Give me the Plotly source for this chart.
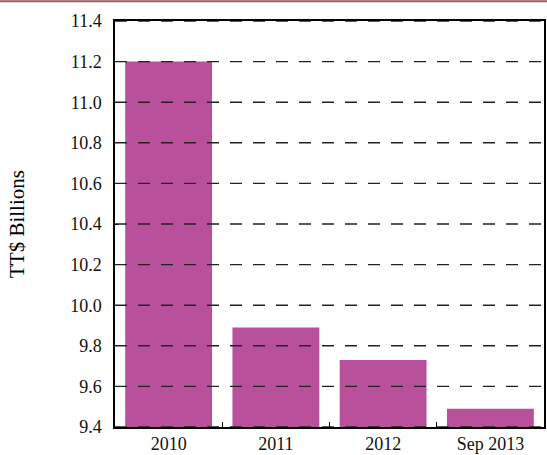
import plotly.graph_objects as go

# TT$ billions by period
periods = ["2010", "2011", "2012", "Sep 2013"]
values = [11.2, 9.89, 9.73, 9.49]
y_ticks = [9.4, 9.6, 9.8, 10.0, 10.2, 10.4, 10.6, 10.8, 11.0, 11.2, 11.4]

serif = "Liberation Serif"

fig = go.Figure()
fig.add_trace(go.Bar(
    x=periods, y=values,
    marker=dict(color="#B8509B", line=dict(width=0)),
    width=0.81,
))

# dashed grid drawn over the bars
for t in y_ticks:
    fig.add_shape(type="line", xref="paper", yref="y", x0=0, x1=1, y0=t, y1=t,
                  line=dict(color="#222222", width=1.4, dash="12px,11px"), layer="above")

# thin border line at the top of the page
fig.add_shape(type="line", xref="paper", yref="paper", x0=-0.3, x1=1.01, y0=1.0484, y1=1.0484,
              line=dict(color="#9C5B5B", width=2))

fig.update_layout(
    width=547, height=455,
    margin=dict(l=115, r=1, t=21, b=21),
    plot_bgcolor="white", paper_bgcolor="white",
    font=dict(family=serif, size=18, color="black"),
    showlegend=False,
    bargap=0.19,
)
fig.update_xaxes(
    showline=True, linecolor="black", linewidth=1.5, mirror=True,
    ticks="inside", tickson="boundaries", ticklen=5, tickcolor="black",
    showgrid=False, tickfont=dict(family=serif, size=18, color="#111111"),
)
fig.update_yaxes(
    range=[9.4, 11.4], tickvals=y_ticks, ticktext=[f"{t:.1f}" for t in y_ticks],
    showline=True, linecolor="black", linewidth=1.5, mirror=True,
    showgrid=False, ticks="inside", ticklen=4, tickcolor="black",
    ticklabelstandoff=8,
    tickfont=dict(family=serif, size=18, color="#111111"),
    title=dict(text="TT$ Billions", font=dict(family=serif, size=21), standoff=40),
)

fig.write_html("out.html", config={"displayModeBar": False},
               post_script="document.body.style.margin='0';")
